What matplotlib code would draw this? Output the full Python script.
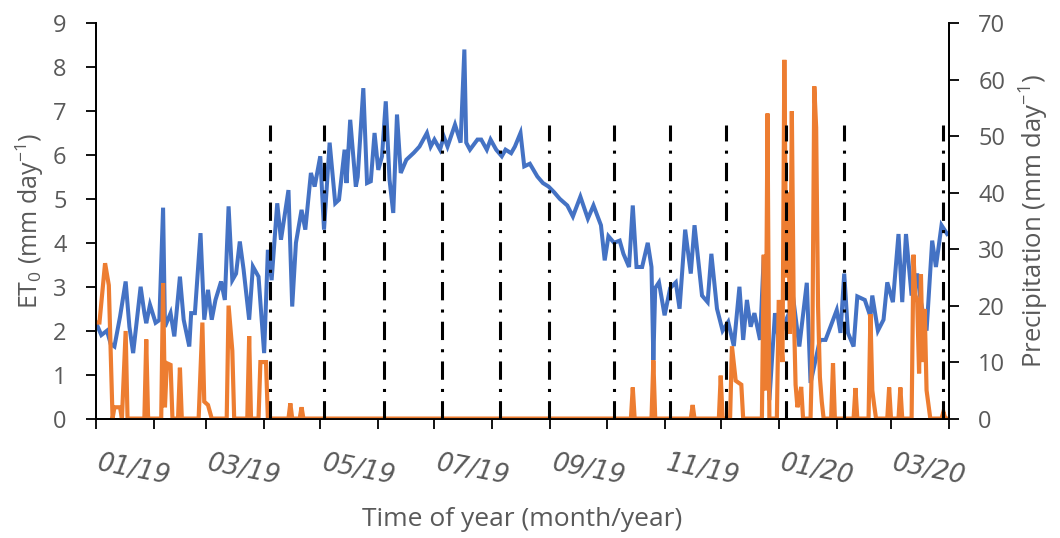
import numpy as np
import pandas as pd
import matplotlib
matplotlib.use("Agg")
import matplotlib.pyplot as plt
import matplotlib.dates as mdates
import matplotlib.transforms as mtransforms

plt.rcParams["mathtext.fontset"] = "custom"
plt.rcParams["mathtext.rm"] = "Open Sans"
plt.rcParams["mathtext.it"] = "Open Sans:italic"

# ET0 readings (days after 01/01/2019, mm/day)
et0_day = [0, 3, 6, 8, 10, 13, 16, 18, 20, 24, 26, 27, 29, 32, 34, 36, 37, 40, 42, 45,
           47, 50, 51, 53, 56, 58, 60, 62, 64, 67, 69, 71, 73, 75, 77, 79, 82, 84, 87, 90,
           92, 94, 97, 99, 103, 105, 107, 110, 112, 115, 117, 120, 122, 125, 128, 130, 133, 134, 136, 139,
           140, 143, 145, 147, 149, 151, 153, 155, 157, 159, 161, 163, 166, 170, 173, 177, 179, 181, 184, 186,
           188, 192, 195, 197, 198, 200, 204, 206, 209, 211, 214, 217, 219, 222, 224, 227, 229, 232, 236, 239,
           242, 245, 248, 252, 255, 259, 263, 266, 270, 272, 274, 277, 280, 282, 285, 287, 289, 292, 295, 297,
           298, 299, 301, 304, 307, 310, 312, 315, 318, 320, 324, 327, 329, 332, 335, 338, 341, 344, 346, 348,
           350, 352, 355, 357, 360, 363, 365, 369, 373, 376, 380, 382, 387, 390, 396, 398, 400, 402, 405, 407,
           411, 414, 415, 418, 421, 423, 426, 429, 431, 433, 436, 439, 441, 444, 447, 449, 452, 455]
et0_val = [2.2, 1.9, 2.0, 1.7, 1.64, 2.32, 3.12, 2.09, 1.49, 3.0, 2.4, 2.17, 2.59, 2.18, 2.24, 4.8, 2.09, 2.4, 1.87, 3.23,
           2.25, 1.64, 2.4, 2.4, 4.22, 2.25, 2.93, 2.25, 2.7, 3.12, 2.7, 4.83, 3.15, 3.3, 4.03, 3.4, 2.25, 3.46, 3.23, 1.49,
           3.84, 3.15, 4.9, 4.07, 5.2, 2.55, 4.0, 4.75, 4.3, 5.59, 5.28, 5.97, 4.3, 6.28, 4.9, 4.98, 6.12, 5.36, 6.8, 5.28,
           5.5, 7.52, 5.36, 5.4, 6.5, 5.66, 5.97, 7.22, 5.44, 4.68, 6.92, 5.59, 5.89, 6.05, 6.19, 6.5, 6.19, 6.35, 6.12, 6.42,
           6.19, 6.69, 6.28, 8.4, 6.28, 6.12, 6.35, 6.35, 6.12, 6.35, 6.12, 5.97, 6.12, 6.04, 6.19, 6.5, 5.74, 5.8, 5.51, 5.36,
           5.28, 5.15, 5.0, 4.85, 4.6, 5.05, 4.55, 4.85, 4.4, 3.6, 4.15, 4.0, 4.05, 3.75, 3.45, 4.85, 3.45, 3.45, 4.0, 3.45,
           1.33, 2.97, 3.1, 2.35, 2.97, 3.1, 2.5, 4.3, 3.3, 4.4, 2.8, 2.65, 3.75, 2.5, 2.0, 2.2, 1.65, 3.0, 1.79, 2.7,
           2.09, 2.4, 1.79, 3.69, 0.42, 2.4, 1.79, 2.25, 2.65, 1.64, 3.09, 0.81, 1.79, 1.79, 2.47, 1.95, 3.3, 1.95, 1.64, 2.78,
           2.7, 2.32, 2.8, 2.0, 2.25, 3.1, 2.65, 4.2, 2.65, 4.2, 2.8, 3.3, 2.65, 2.0, 4.05, 3.45, 4.4, 4.2]

# precipitation readings (days after 01/01/2019, mm/day)
rain_day = [0, 2, 5, 7, 9, 10, 13, 14, 16, 17, 26, 27, 28, 35, 36, 37, 38, 40, 41, 44,
            45, 46, 55, 57, 58, 60, 62, 70, 71, 73, 74, 81, 82, 83, 87, 88, 91, 92, 103, 104,
            105, 109, 110, 111, 286, 287, 288, 297, 298, 299, 318, 319, 320, 333, 334, 335, 339, 340, 342, 345,
            346, 356, 357, 358, 359, 360, 364, 365, 367, 368, 369, 370, 371, 372, 373, 374, 375, 376, 377, 378,
            382, 383, 384, 385, 386, 387, 388, 389, 393, 394, 395, 405, 406, 407, 413, 414, 415, 416, 417, 423,
            424, 425, 429, 430, 431, 436, 437, 438, 439, 440, 441, 442, 443, 444, 446, 452, 453, 454, 456]
rain_val = [17, 17, 27.5, 23.6, 0, 2, 2, 0, 15.5, 0, 0, 14, 0, 0, 24, 2, 9.8, 9.5, 0, 0,
            9, 0, 0, 17, 3, 2.4, 0, 0, 20, 12, 0, 0, 14.6, 0, 0, 10, 10, 0, 0, 2.7,
            0, 0, 2, 0, 0, 5.5, 0, 0, 10.3, 0, 0, 2.4, 0, 0, 7.6, 0, 0, 12.8, 6.7, 6,
            0, 0, 29, 5, 54, 0, 0, 21, 10, 63.5, 25, 40, 15, 54.4, 20, 6, 2, 3.6, 5.6, 0,
            0, 14, 58.8, 51.5, 20, 7.3, 3, 0, 0, 9.8, 0, 0, 5.4, 0, 0, 18.5, 5, 2.4, 0, 0,
            5.5, 0, 0, 5.5, 0, 0, 29, 22, 20.6, 8, 25.5, 10, 19.4, 5, 0, 0, 1.2, 0, 0]

# sampling dates (dash-dot lines)
sample_dates = ["2019-04-04", "2019-05-03", "2019-06-04", "2019-07-05", "2019-08-05", "2019-08-31",
                "2019-10-05", "2019-11-04", "2019-12-04", "2020-01-05", "2020-02-05", "2020-03-29"]
sample_top = 52

month_labels = ["01/19", "03/19", "05/19", "07/19", "09/19", "11/19", "01/20", "03/20"]

start = pd.Timestamp("2019-01-01")
et0_dates = start + pd.to_timedelta(et0_day, unit="D")
rain_dates = start + pd.to_timedelta(rain_day, unit="D")

grey = "#595959"
blue = "#4472C4"
orange = "#ED7D31"

fig = plt.figure(figsize=(10.6, 5.38), dpi=100)
ax = fig.add_axes([0.0903, 0.222, 0.805, 0.735])
ax2 = ax.twinx()

ax.plot(et0_dates, et0_val, color=blue, lw=2.9, zorder=2, solid_joinstyle="miter")
ax2.plot(rain_dates, rain_val, color=orange, lw=3.0, zorder=2, solid_joinstyle="miter")
for d in sample_dates:
    ax2.plot([pd.Timestamp(d)] * 2, [0, sample_top], color="black", lw=2.2,
             ls=(0, (6, 3, 1, 3)), zorder=3)

ax.set_xlim(pd.Timestamp("2019-01-01"), pd.Timestamp("2020-04-01"))
ax.set_ylim(0, 9)
ax2.set_ylim(0, 70)
ax.set_yticks(range(0, 10))
ax2.set_yticks(range(0, 71, 10))

# month ticks, labels centred on odd months
ax.xaxis.set_major_locator(mdates.MonthLocator())
ax.xaxis.set_major_formatter(plt.NullFormatter())
mid = [pd.Timestamp(f"20{m[3:]}-{m[:2]}-16") for m in month_labels]
ax.set_xticks(mid, minor=True)
ax.set_xticklabels(month_labels, minor=True)
ax.tick_params(axis="x", which="minor", length=0, pad=23, labelsize=18.5,
               labelcolor=grey, rotation=-11)
offset = mtransforms.ScaledTranslation(10 / 100, 0, fig.dpi_scale_trans)
for lbl in ax.xaxis.get_minorticklabels():
    lbl.set_transform(lbl.get_transform() + offset)
    lbl.set_ha("center")
    lbl.set_fontstyle("italic")

ax.tick_params(axis="x", which="major", length=7, width=1.3, direction="out")
ax.tick_params(axis="y", length=7, width=1.3, labelsize=17, labelcolor=grey, pad=14)
ax2.tick_params(axis="y", length=7, width=1.3, labelsize=17, labelcolor=grey, pad=14)
for lbl in ax.get_yticklabels() + ax2.get_yticklabels():
    lbl.set_family("Open Sans")

for a in (ax, ax2):
    a.spines["top"].set_visible(False)
    for s in ("left", "right", "bottom"):
        a.spines[s].set_linewidth(1.3)

ax.set_ylabel(r"ET$_\mathregular{0}$ (mm day$^\mathregular{-1}$)", fontsize=18, color=grey,
              family="Open Sans", labelpad=5)
ax2.set_ylabel(r"Precipitation (mm day$^\mathregular{-1}$)", fontsize=18.5, color=grey,
               family="Open Sans", labelpad=9)
ax.set_xlabel("Time of year (month/year)", fontsize=19, color=grey, family="Open Sans", labelpad=12)

fig.savefig("out.png", dpi=100)
